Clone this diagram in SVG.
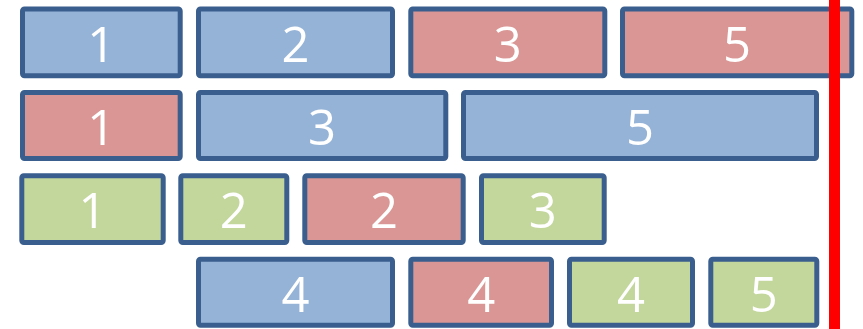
<svg xmlns="http://www.w3.org/2000/svg" width="863" height="329" viewBox="0 0 863 329">
<style>
rect.b{stroke:#3A5F8E;stroke-width:5;rx:2;ry:2}
.blue{fill:#95B3D7}
.red{fill:#D99694}
.green{fill:#C3D69B}
text{font-family:"Open Sans","Liberation Sans",sans-serif;font-size:49px;fill:#FFFFFF;text-anchor:middle}
</style>
<rect width="863" height="329" fill="#FFFFFF"/>
<g id="r1c1"><rect class="b blue" x="22.5" y="9" width="157.7" height="66.8"/><text x="101.3" y="61.7">1</text></g>
<g id="r1c2"><rect class="b blue" x="198.5" y="9" width="194" height="66.8"/><text x="295.5" y="61.7">2</text></g>
<g id="r1c3"><rect class="b red" x="410.8" y="9" width="194" height="66.8"/><text x="507.8" y="61.7">3</text></g>
<g id="r1c4"><rect class="b red" x="622.5" y="9" width="229.3" height="66.8"/><text x="737" y="61.7">5</text></g>

<g id="r2c1"><rect class="b red" x="22.5" y="92.5" width="157.7" height="66"/><text x="101.3" y="144.5">1</text></g>
<g id="r2c2"><rect class="b blue" x="198.5" y="92.5" width="247.3" height="66"/><text x="322" y="144.5">3</text></g>
<g id="r2c3"><rect class="b blue" x="463.5" y="92.5" width="353" height="66"/><text x="640" y="144.5">5</text></g>

<g id="r3c1"><rect class="b green" x="21.8" y="175.8" width="141.4" height="66.7"/><text x="92.5" y="228">1</text></g>
<g id="r3c2"><rect class="b green" x="180.8" y="175.8" width="106" height="66.7"/><text x="233.8" y="228">2</text></g>
<g id="r3c3"><rect class="b red" x="304.8" y="175.8" width="158.4" height="66.7"/><text x="384" y="228">2</text></g>
<g id="r3c4"><rect class="b green" x="481.5" y="175.8" width="122.7" height="66.7"/><text x="542.8" y="228">3</text></g>

<g id="r4c1"><rect class="b blue" x="198.5" y="259.2" width="194" height="66"/><text x="295.5" y="311.5">4</text></g>
<g id="r4c2"><rect class="b red" x="410.8" y="259.2" width="140.7" height="66"/><text x="481.2" y="311.5">4</text></g>
<g id="r4c3"><rect class="b green" x="569.5" y="259.2" width="123" height="66"/><text x="631" y="311.5">4</text></g>
<g id="r4c4"><rect class="b green" x="710.8" y="259.2" width="106" height="66"/><text x="763.8" y="311.5">5</text></g>

<g id="marker"><rect x="829" y="0" width="11" height="329" fill="#FF0000"/></g>
</svg>
